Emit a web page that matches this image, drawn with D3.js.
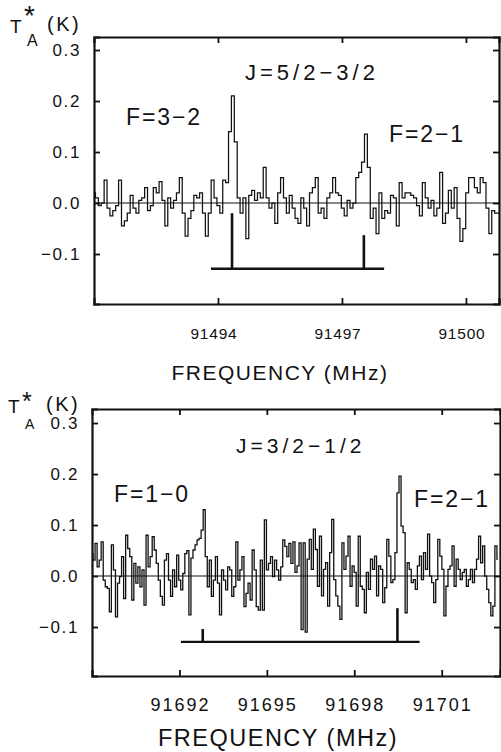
<!DOCTYPE html>
<html>
<head>
<meta charset="utf-8">
<script src="https://cdn.jsdelivr.net/npm/d3@7"></script>
<style>
  html, body { margin: 0; padding: 0; background: #fff; }
  svg { display: block; }
  text { font-family: "Liberation Sans", Arial, Helvetica, sans-serif; fill: #111; }
</style>
</head>
<body>
<svg id="chart" width="501" height="752"></svg>
<script>
// ---------------- DATA ----------------
// Panel 1: J = 5/2 - 3/2
const topFreqStart = 91491.0;   // MHz, first channel
const topFreqStep = 0.07;       // MHz per channel
const topValues = [
  0.02,0.01,-0.005,0.0,0.045,-0.01,-0.025,-0.015,-0.005,0.045,
  -0.045,-0.035,-0.02,0.015,-0.01,-0.02,0.005,0.01,0.03,-0.015,
  -0.005,0.03,0.02,0.042,0.005,-0.045,0.01,-0.01,0.005,0.02,
  0.05,-0.02,-0.065,-0.03,-0.015,0.015,0.01,0.02,-0.02,-0.065,
  -0.02,0.045,0.01,-0.005,-0.02,0.045,0.04,0.14,0.21,0.12,
  0.01,-0.02,0.01,-0.07,0.015,0.025,0.005,0.02,0.01,0.07,
  0.01,-0.01,0.0,-0.04,0.02,0.05,0.01,-0.02,0.015,-0.01,
  -0.03,-0.04,0.01,-0.01,-0.045,0.02,0.03,0.05,-0.02,-0.01,
  -0.03,0.01,0.02,0.05,0.02,0.015,-0.01,-0.025,0.005,-0.01,
  0.0,0.05,0.06,0.08,0.135,0.07,-0.03,-0.01,-0.06,0.02,
  -0.03,-0.015,-0.02,0.015,0.01,-0.045,0.04,0.01,0.02,0.02,
  0.015,0.01,-0.005,-0.025,0.04,0.01,-0.01,0.005,-0.025,-0.01,
  0.06,-0.04,-0.02,0.025,-0.01,0.03,-0.03,-0.075,-0.05,0.02,
  0.05,0.05,0.03,0.02,0.05,0.04,-0.01,-0.06,-0.015,-0.02,
  -0.02
];
const topXDomain = [91491.0, 91500.8];
const topYDomain = [-0.198, 0.3255];
const topXTicks = [91494, 91497, 91500];
const topStickFreqs = [91494.34, 91497.53];
const topStickTops = [-0.02, -0.063];
const topBarRange = [91493.83, 91498.02];
const topBarLevel = -0.129;
const topTitle = "J=5/2\u22123/2";
const topLabels = ["F=3\u22122", "F=2\u22121"];

// Panel 2: J = 3/2 - 1/2
const botFreqStart = 91689.0;
const botFreqStep = 0.07;
const botValues = [
  0.044,0.031,0.064,0.018,0.031,0.067,-0.008,-0.021,-0.024,-0.07,
  0.061,0.012,-0.08,-0.014,-0.001,0.038,-0.044,0.08,0.054,0.038,
  -0.047,0.025,-0.014,0.018,-0.021,0.012,-0.057,0.08,0.018,0.038,
  0.077,0.051,0.025,-0.008,-0.04,-0.057,0.031,0.044,-0.008,-0.04,
  0.012,-0.021,0.041,-0.008,-0.027,0.005,0.044,0.05,-0.076,0.035,
  0.051,0.061,0.071,0.074,0.09,0.13,0.038,-0.021,0.031,-0.04,
  -0.008,0.038,-0.014,-0.076,0.012,-0.008,-0.027,0.018,0.012,-0.04,
  -0.021,0.067,-0.008,0.012,0.038,-0.06,-0.034,-0.014,-0.047,0.051,
  0.012,-0.06,-0.067,0.031,-0.067,0.11,0.012,0.025,0.038,-0.001,
  0.031,0.012,-0.008,0.018,0.071,0.058,0.038,0.064,0.025,0.067,
  0.007,0.02,0.065,-0.105,0.065,-0.11,0.033,0.072,0.013,0.092,
  0.052,-0.02,0.078,-0.039,0.013,0.026,-0.059,0.046,0.111,-0.007,
  -0.039,-0.059,-0.085,0.065,0.013,0.039,0.078,-0.02,0.02,0.007,
  -0.059,0.078,-0.02,-0.026,-0.072,0.007,-0.026,0.033,0.013,0.039,
  -0.039,0.02,0.013,-0.052,-0.023,0.072,0.039,-0.013,-0.007,0.046,
  0.163,0.196,0.098,0.085,-0.072,0.026,0.013,-0.013,-0.007,-0.026,
  0.02,0.039,-0.007,0.046,0.013,0.082,0.0,-0.013,-0.052,-0.007,
  0.072,0.039,0.013,-0.078,-0.02,0.013,0.02,0.059,-0.02,0.033,
  0.013,-0.007,0.007,0.013,-0.02,-0.007,0.013,-0.013,0.013,0.033,
  0.078,0.026,0.059,0.0,-0.026,-0.052,-0.078,-0.059,0.059,0.033
];
const botXDomain = [91689.0, 91703.0];
const botYDomain = [-0.196, 0.3275];
const botXTicks = [91692, 91695, 91698, 91701];
const botStickFreqs = [91692.80, 91699.48];
const botStickTops = [-0.104, -0.063];
const botBarRange = [91692.05, 91700.24];
const botBarLevel = -0.129;
const botTitle = "J=3/2\u22121/2";
const botLabels = ["F=1\u22120", "F=2\u22121"];

// shared
const yTicks = [0.3, 0.2, 0.1, 0.0, -0.1];
const yTickLabels = ["0.3", "0.2", "0.1", "0.0", "\u22120.1"];
const xAxisTitle = "FREQUENCY (MHz)";
const yAxisTitle = ["T", "*", "A", "(K)"];

// ---------------- DRAW ----------------
const svg = d3.select("#chart");

function drawPanel(cfg) {
  const g = svg.append("g");
  const x = d3.scaleLinear().domain(cfg.xDomain).range([cfg.left, cfg.right]);
  const y = d3.scaleLinear().domain(cfg.yDomain).range([cfg.bottom, cfg.top]);

  // zero line
  g.append("line")
    .attr("x1", x(cfg.xDomain[0])).attr("x2", x(cfg.xDomain[1]))
    .attr("y1", y(0)).attr("y2", y(0))
    .attr("stroke", "#111").attr("stroke-width", 1.1);

  // spectrum (histogram steps)
  const pts = cfg.values.map((v, i) => [cfg.f0 + i * cfg.df, v]);
  const line = d3.line().x(d => x(d[0])).y(d => y(d[1])).curve(d3.curveStep);
  g.append("path").attr("d", line(pts))
    .attr("fill", "none").attr("stroke", "#111").attr("stroke-width", cfg.specWidth)
    .attr("stroke-linejoin", "miter");

  // stick diagram
  g.append("line")
    .attr("x1", x(cfg.barRange[0])).attr("x2", x(cfg.barRange[1]))
    .attr("y1", y(cfg.barLevel)).attr("y2", y(cfg.barLevel))
    .attr("stroke", "#111").attr("stroke-width", 2.4);
  cfg.stickFreqs.forEach((f, i) => {
    g.append("line")
      .attr("x1", x(f)).attr("x2", x(f))
      .attr("y1", y(cfg.barLevel)).attr("y2", y(cfg.stickTops[i]))
      .attr("stroke", "#111").attr("stroke-width", 2.6);
  });

  // axes (frame with inward ticks)
  const tk = 6;
  const axB = d3.axisBottom(x).tickValues(cfg.xTicks).tickSize(-tk).tickFormat("");
  const axT = d3.axisTop(x).tickValues(cfg.xTicks).tickSize(-tk).tickFormat("");
  const axL = d3.axisLeft(y).tickValues(yTicks).tickSize(-tk).tickFormat("");
  const axR = d3.axisRight(y).tickValues(yTicks).tickSize(-tk).tickFormat("");
  [[axB, `translate(0,${cfg.bottom})`], [axT, `translate(0,${cfg.top})`],
   [axL, `translate(${cfg.left},0)`], [axR, `translate(${cfg.right},0)`]].forEach(([ax, tr]) => {
    const a = g.append("g").attr("transform", tr).call(ax);
    a.select(".domain").attr("stroke", "#111").attr("stroke-width", 2.2);
    a.selectAll(".tick line").attr("stroke", "#111").attr("stroke-width", 1.8);
  });

  // y tick labels
  g.selectAll(".ylab").data(yTicks).enter().append("text")
    .attr("x", cfg.left - 13).attr("y", d => y(d))
    .attr("dy", "0.36em").attr("text-anchor", "end")
    .attr("font-size", 17).attr("letter-spacing", 1.6)
    .text((d, i) => yTickLabels[i]);

  // x tick labels
  g.selectAll(".xlab").data(cfg.xTicks).enter().append("text")
    .attr("x", d => x(d) + cfg.xLabShift).attr("y", cfg.xLabY)
    .attr("text-anchor", "middle")
    .attr("font-size", cfg.xLabSize).attr("letter-spacing", cfg.xLabSpacing)
    .text(d => String(d));

  // x axis title
  g.append("text").attr("x", cfg.xTitleX).attr("y", cfg.xTitleY)
    .attr("text-anchor", "middle").attr("font-size", cfg.xTitleSize)
    .attr("letter-spacing", 1.5)
    .text(xAxisTitle);

  // y axis title  T*_A (K)
  const yt = cfg.yTitle;
  g.append("text").attr("x", yt.tx).attr("y", yt.ty).attr("font-size", yt.ts).text(yAxisTitle[0]);
  g.append("text").attr("x", yt.sx).attr("y", yt.sy).attr("font-size", yt.ss).text(yAxisTitle[1]);
  g.append("text").attr("x", yt.ax).attr("y", yt.ay).attr("font-size", yt.as).text(yAxisTitle[2]);
  g.append("text").attr("x", yt.kx).attr("y", yt.ky).attr("font-size", 20)
    .attr("letter-spacing", 2.5).text(yAxisTitle[3]);

  // annotations
  g.append("text").attr("x", cfg.titleX).attr("y", cfg.titleY)
    .attr("font-size", cfg.titleSize).attr("letter-spacing", 4).text(cfg.title);
  cfg.labels.forEach((t, i) => {
    g.append("text").attr("x", cfg.labelPos[i][0]).attr("y", cfg.labelPos[i][1])
      .attr("font-size", 23).attr("letter-spacing", 1.9).text(t);
  });
}

drawPanel({
  left: 94, right: 499, top: 37, bottom: 304,
  xDomain: topXDomain, yDomain: topYDomain, xTicks: topXTicks,
  values: topValues, f0: topFreqStart, df: topFreqStep, specWidth: 1.25,
  stickFreqs: topStickFreqs, stickTops: topStickTops,
  barRange: topBarRange, barLevel: topBarLevel,
  xLabY: 339, xLabSize: 15.5, xLabSpacing: 0.8, xLabShift: -4,
  xTitleX: 280, xTitleY: 380, xTitleSize: 21,
  yTitle: {tx: 10, ty: 33, ts: 19, sx: 24, sy: 25, ss: 28, ax: 27, ay: 46, as: 16, kx: 47, ky: 31},
  title: topTitle, titleX: 245, titleY: 80, titleSize: 22,
  labels: topLabels, labelPos: [[126, 125], [389, 142]]
});

drawPanel({
  left: 92, right: 500, top: 409, bottom: 676,
  xDomain: botXDomain, yDomain: botYDomain, xTicks: botXTicks,
  values: botValues, f0: botFreqStart, df: botFreqStep, specWidth: 1.3,
  stickFreqs: botStickFreqs, stickTops: botStickTops,
  barRange: botBarRange, barLevel: botBarLevel,
  xLabY: 711, xLabSize: 18, xLabSpacing: 2, xLabShift: 1,
  xTitleX: 278, xTitleY: 746, xTitleSize: 23.5,
  yTitle: {tx: 8, ty: 413, ts: 19, sx: 22, sy: 410, ss: 25, ax: 25, ay: 429, as: 14, kx: 46, ky: 411},
  title: botTitle, titleX: 236, titleY: 453, titleSize: 21,
  labels: botLabels, labelPos: [[114, 502], [414, 507]]
});
</script>
</body>
</html>
